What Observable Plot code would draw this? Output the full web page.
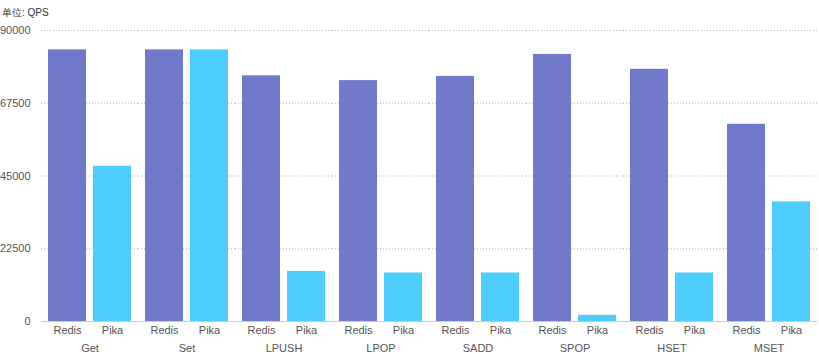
<!DOCTYPE html>
<html>
<head>
<meta charset="utf-8">
<script src="https://cdn.jsdelivr.net/npm/d3@7"></script>
<script src="https://cdn.jsdelivr.net/npm/@observablehq/plot@0.6"></script>
<style>
  body { margin: 0; background: #fff; }
  #wrap { position: relative; width: 819px; height: 354px; font-family: "Liberation Sans", Arial, sans-serif; }
  #unit { position: absolute; left: 2px; top: 6px; font-size: 10px; color: #333; }
</style>
</head>
<body>
<div id="wrap"><div id="unit">单位: QPS</div></div>
<script>
const commands = ["Get", "Set", "LPUSH", "LPOP", "SADD", "SPOP", "HSET", "MSET"];
const dbs = ["Redis", "Pika"];
const redisQps = [84000, 84000, 76000, 74500, 75800, 82600, 78000, 61000];
const pikaQps = [48000, 84000, 15500, 15000, 15000, 1900, 15000, 37000];
const yTicks = [0, 22500, 45000, 67500, 90000];
const colors = ["#7179cb", "#4ccdfb"];

const data = [];
commands.forEach((c, i) => {
  data.push({command: c, db: "Redis", qps: redisQps[i]});
  data.push({command: c, db: "Pika", qps: pikaQps[i]});
});

const chart = Plot.plot({
  width: 819,
  height: 354,
  marginLeft: 40,
  marginRight: 1,
  marginTop: 30,
  marginBottom: 33,
  style: {fontFamily: '"Liberation Sans", Arial, sans-serif', fontSize: "11px", color: "#555", background: "#fff"},
  fx: {domain: commands, padding: 0, label: null, tickSize: 0, tickPadding: 23, axis: "bottom"},
  x: {domain: dbs, padding: 0.155, label: null, tickSize: 0, tickPadding: 5, ariaLabel: "db"},
  y: {domain: [0, 90000], ticks: yTicks, tickSize: 0, tickPadding: 11, label: null, tickFormat: d => String(d)},
  color: {domain: dbs, range: colors},
  marks: [
    Plot.gridY(yTicks, {stroke: "#bbb", strokeOpacity: 1, strokeDasharray: "1,2"}),
    Plot.barY(data, {fx: "command", x: "db", y: "qps", fill: "db"}),
    Plot.ruleY([0], {stroke: "#ccc"})
  ]
});
document.getElementById("wrap").appendChild(chart);
</script>
</body>
</html>
